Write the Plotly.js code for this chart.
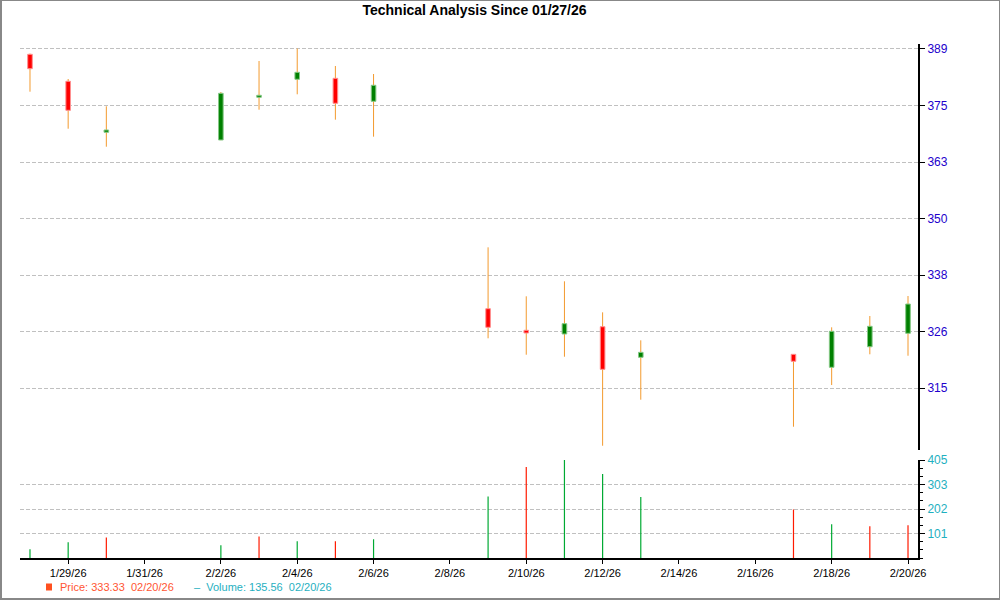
<!DOCTYPE html>
<html><head><meta charset="utf-8">
<script src="https://cdn.plot.ly/plotly-3.0.1.min.js"></script>
<style>
html,body{margin:0;padding:0;background:#fff}
#wrap{position:relative;width:1000px;height:600px}
#chart{width:1000px;height:600px}
#frame{position:absolute;left:0;top:0;width:1000px;height:600px;box-sizing:border-box;border:1px solid #888;border-left-width:2px;border-bottom-width:2px;pointer-events:none}
</style>
</head><body><div id="wrap"><div id="chart"></div><div id="frame"></div></div>
<script>
// ---- data ----
const dates = ['2026-01-28','2026-01-29','2026-01-30','2026-02-02','2026-02-03','2026-02-04','2026-02-05','2026-02-06','2026-02-09','2026-02-10','2026-02-11','2026-02-12','2026-02-13','2026-02-17','2026-02-18','2026-02-19','2026-02-20'];
const openP  = [387.84, 381.95, 370.82, 369.14, 378.46, 382.39, 382.60, 377.58, 332.31, 327.60, 326.79, 328.38, 321.70, 322.35, 319.52, 324.01, 326.94];
const highP  = [388.00, 382.45, 376.49, 379.61, 386.38, 389.10, 385.29, 383.54, 345.71, 335.02, 338.29, 331.52, 325.41, 322.42, 328.25, 330.72, 335.08];
const lowP   = [379.68, 371.60, 367.67, 369.10, 375.75, 379.11, 373.57, 369.86, 325.85, 322.27, 321.83, 302.40, 312.45, 306.55, 315.65, 322.36, 322.05];
const closeP = [384.70, 375.62, 371.32, 379.33, 378.89, 383.91, 377.15, 381.08, 328.25, 327.01, 329.04, 319.08, 322.79, 320.83, 327.38, 328.47, 333.33];
const volume = [36, 65, 84.5, 52.6, 88.6, 69.2, 69.2, 77.5, 254.5, 376, 405, 347, 251.6, 200.6, 139.7, 131.4, 135.56];
const volDir = ['up','up','down','up','down','up','down','up','up','down','up','up','up','down','up','down','down'];
const priceTickVals = [315, 327.333, 339.667, 352, 364.333, 376.667, 389];
const priceTickText = ['315','326','338','350','363','375','389'];
const volTickVals = [101.25, 202.5, 303.75, 405];
const volTickText = ['101','202','303','405'];
const lastDateLabel = '02/20/26';
const titleText = 'Technical Analysis Since 01/27/26';

// ---- geometry / style ----
const DAY = 86400000;
const PX_PER_DAY = 38.18;
const BODY_W = 4.6 / PX_PER_DAY * DAY;
const VOL_W = 1.2 / PX_PER_DAY * DAY;
const L = 20, R = 82, T = 44, B = 42, W = 1000, H = 600;
const PW = W - L - R, PH = H - T - B;
const px2x = p => (p - L) / PW;
const px2y = p => (H - B - p) / PH;
const FONT = 'Liberation Sans, Arial, sans-serif';

// wicks
const wx = [], wy = [];
dates.forEach((d, i) => { wx.push(d, d, null); wy.push(lowP[i], highP[i], null); });

function bodies(up) {
  const x = [], base = [], y = [];
  dates.forEach((d, i) => {
    const isUp = closeP[i] >= openP[i];
    if (isUp === up) { x.push(d); base.push(Math.min(openP[i], closeP[i])); y.push(Math.abs(closeP[i] - openP[i])); }
  });
  return {x, base, y};
}
const bu = bodies(true), bd = bodies(false);
function vols(dir) {
  const x = [], y = [];
  dates.forEach((d, i) => { if (volDir[i] === dir) { x.push(d); y.push(volume[i]); } });
  return {x, y};
}
const vu = vols('up'), vd = vols('down');

const traces = [
  {type:'scatter', mode:'lines', x:wx, y:wy, xaxis:'x', yaxis:'y', line:{color:'#f39a2e', width:1}, hoverinfo:'skip', showlegend:false},
  {type:'bar', x:bu.x, base:bu.base, y:bu.y, xaxis:'x', yaxis:'y3', width:BODY_W, marker:{color:'#008000', line:{color:'#86c886', width:1}}, showlegend:false},
  {type:'bar', x:bd.x, base:bd.base, y:bd.y, xaxis:'x', yaxis:'y3', width:BODY_W, marker:{color:'#ff0000', line:{color:'#ff9090', width:1}}, showlegend:false},
  {type:'bar', x:vu.x, y:vu.y, xaxis:'x', yaxis:'y2', width:VOL_W, marker:{color:'#00aa33', line:{width:0}}, showlegend:false},
  {type:'bar', x:vd.x, y:vd.y, xaxis:'x', yaxis:'y2', width:VOL_W, marker:{color:'#ff1a00', line:{width:0}}, showlegend:false}
];

const priceRange = [301.47, 390.09];
const GRID_DASH = '4px,2px';
const layout = {
  width: W, height: H,
  margin: {l:L, r:R, t:T, b:B, pad:0},
  paper_bgcolor:'#ffffff', plot_bgcolor:'#ffffff',
  showlegend:false,
  barmode:'overlay',
  font:{family:FONT, size:11, color:'#000'},
  title:{text:titleText, font:{family:FONT, size:14, color:'#000', weight:'bold'}, x:0.4745, xref:'container', xanchor:'center', y:1 - 10/600, yref:'container', yanchor:'middle'},
  xaxis:{
    type:'date', anchor:'y2',
    range:['2026-01-27 17:43', '2026-02-20 06:17'],
    tickmode:'linear', tick0:'2026-01-29', dtick:2*DAY, tickformat:'%-m/%-d/%y',
    ticks:'outside', ticklen:4, tickwidth:1, tickcolor:'#000',
    showline:true, linecolor:'#000', linewidth:2,
    showgrid:false, zeroline:false,
    tickfont:{family:FONT, size:11, color:'#000'}
  },
  yaxis:{
    domain:[px2y(450), 1], anchor:'x', side:'right',
    range:priceRange,
    tickmode:'array', tickvals:priceTickVals, ticktext:priceTickText,
    ticks:'outside', ticklen:5, tickwidth:1, tickcolor:'#000',
    showline:true, linecolor:'#000', linewidth:2,
    showgrid:true, gridcolor:'#c0c0c0', griddash:GRID_DASH, gridwidth:1,
    zeroline:false,
    tickfont:{family:FONT, size:12, color:'#2200cc'}
  },
  yaxis3:{
    overlaying:'y', anchor:'x', side:'right', range:priceRange, visible:false, showgrid:false, zeroline:false
  },
  yaxis2:{
    domain:[0, px2y(460)], anchor:'x', side:'right',
    range:[0, 405],
    tickmode:'array', tickvals:volTickVals, ticktext:volTickText,
    ticks:'outside', ticklen:5, tickwidth:1, tickcolor:'#000',
    minor:{tickmode:'linear', tick0:0, dtick:33.75, ticks:'outside', ticklen:3, tickcolor:'#000', showgrid:false},
    showline:true, linecolor:'#000', linewidth:2,
    showgrid:true, gridcolor:'#c0c0c0', griddash:GRID_DASH, gridwidth:1,
    zeroline:false,
    tickfont:{family:FONT, size:12, color:'#1fb0bf'}
  },
  shapes:[
    {type:'rect', xref:'paper', yref:'paper', x0:px2x(46), x1:px2x(52), y0:px2y(590.5), y1:px2y(583.5), fillcolor:'#ff5020', line:{width:0}}
  ],
  annotations:[
    {xref:'paper', yref:'paper', x:px2x(58), y:px2y(587), xanchor:'left', yanchor:'middle', showarrow:false,
     text:'Price: ' + closeP[closeP.length-1].toFixed(2) + '&nbsp;&nbsp;' + lastDateLabel, font:{family:FONT, size:11, color:'#ff5533'}},
    {xref:'paper', yref:'paper', x:px2x(192), y:px2y(587), xanchor:'left', yanchor:'middle', showarrow:false,
     text:'–&nbsp;&nbsp;Volume: ' + volume[volume.length-1].toFixed(2) + '&nbsp;&nbsp;' + lastDateLabel, font:{family:FONT, size:11, color:'#1fb0bf'}}
  ]
};

Plotly.newPlot('chart', traces, layout, {displayModeBar:false, staticPlot:true});
</script>
</body></html>
